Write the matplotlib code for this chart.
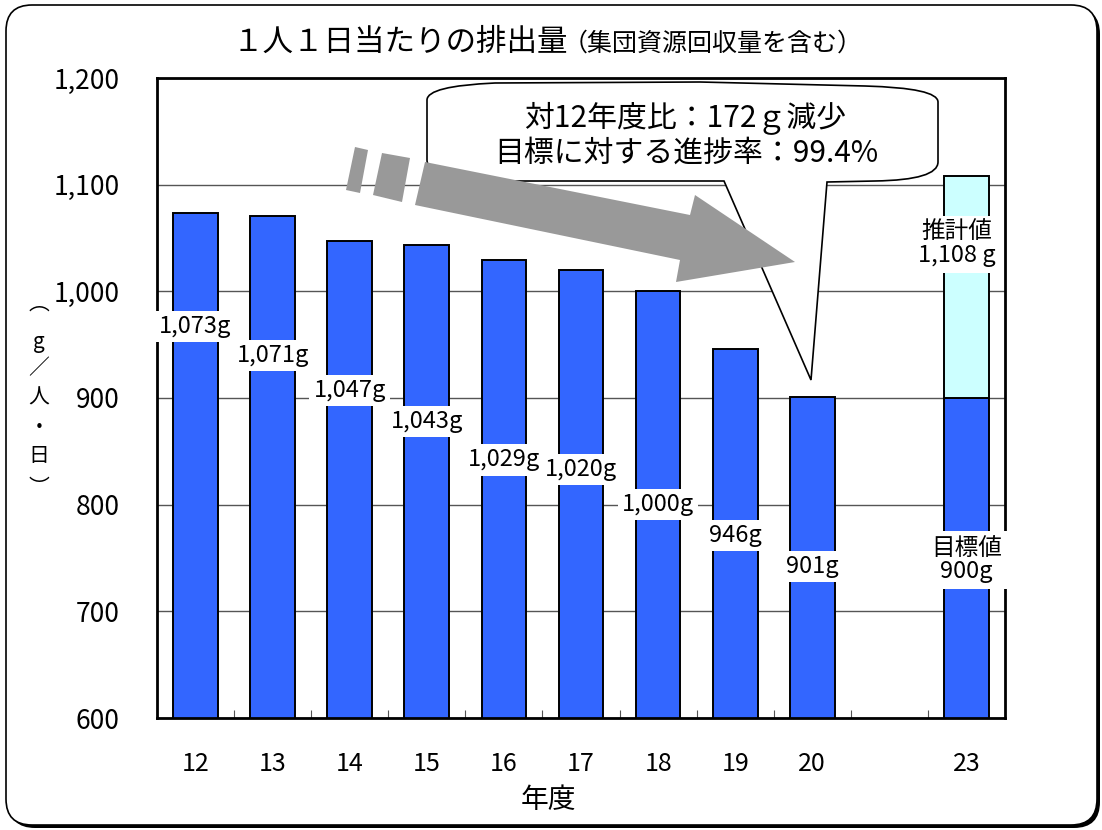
import matplotlib
matplotlib.use('Agg')
import matplotlib.pyplot as plt
from matplotlib.patches import FancyBboxPatch, Polygon, PathPatch
from matplotlib.path import Path
from matplotlib.transforms import IdentityTransform
from matplotlib.ticker import FixedLocator

plt.rcParams['font.family'] = ['Noto Sans CJK JP', 'DejaVu Sans']

# ---------------- data ----------------
years = ['12', '13', '14', '15', '16', '17', '18', '19', '20', '', '23']
actual = [1073, 1071, 1047, 1043, 1029, 1020, 1000, 946, 901]
actual_labels = ['1,073g', '1,071g', '1,047g', '1,043g', '1,029g',
                 '1,020g', '1,000g', '946g', '901g']
target_value = 900
estimate_value = 1108
target_label = '目標値\n900g'
estimate_label = '推計値\n1,108 g'
y_ticks = [600, 700, 800, 900, 1000, 1100, 1200]
y_tick_labels = ['600', '700', '800', '900', '1,000', '1,100', '1,200']
title_main = '１人１日当たりの排出量'
title_sub = '（集団資源回収量を含む）'
callout_lines = ['対12年度比：172ｇ減少', '目標に対する進捗率：99.4%']
ylabel_chars = ['︵', 'g', '／', '人', '・', '日', '︶']
xlabel = '年度'

# ---------------- layout ----------------
W, H = 1102, 830
label_y = [967, 940, 907, 878, 842, 833, 800, 771, 742]   # label centres (data units)
estimate_label_y = 1044
target_label_y = 748
ylabel_py = [304, 342, 368, 398, 428, 456, 488]

BLUE = '#3366FF'
CYAN = '#CCFFFF'
GREY = '#999999'

fig = plt.figure(figsize=(W / 100, H / 100), dpi=100)
fig.patch.set_facecolor('white')


def F(x, y):
    """reference pixel -> figure fraction"""
    return (x / W, 1 - y / H)


# outer rounded frame with shadow
shadow = FancyBboxPatch((9, H - 828), 1091, 820,
                        boxstyle='round,pad=0,rounding_size=26',
                        transform=IdentityTransform(), fc='black', ec='black',
                        lw=0, zorder=-2)
frame = FancyBboxPatch((6, H - 825), 1091, 820,
                       boxstyle='round,pad=0,rounding_size=26',
                       transform=IdentityTransform(), fc='white', ec='black',
                       lw=1.2, zorder=-1)
fig.patches.extend([shadow, frame])

ax = fig.add_axes([157 / W, 1 - 718 / H, 848 / W, 640 / H])
ax.set_zorder(1)
ax.set_facecolor('none')
ax.set_axisbelow(True)

x = list(range(len(years)))
bw = 0.58
ax.bar(x[:len(actual)], actual, width=bw, color=BLUE, edgecolor='black', lw=1.4, zorder=2)
ax.bar(x[-1], target_value, width=bw, color=BLUE, edgecolor='black', lw=1.4, zorder=2)
ax.bar(x[-1], estimate_value - target_value, bottom=target_value, width=bw,
       color=CYAN, edgecolor='black', lw=1.4, zorder=2)

ax.set_xlim(-0.5, len(years) - 0.5)
ax.set_ylim(600, 1200)
ax.yaxis.set_major_locator(FixedLocator(y_ticks))
ax.set_yticklabels(y_tick_labels, fontsize=19)
ax.yaxis.grid(True, color='#555555', lw=1.0, zorder=1)
ax.tick_params(axis='y', length=0, pad=27)

ax.set_xticks(x)
ax.set_xticklabels(years, fontsize=18)
ax.xaxis.set_minor_locator(FixedLocator([i + 0.5 for i in range(len(years) - 1)]))
ax.tick_params(axis='x', which='major', length=0, pad=24)
ax.tick_params(axis='x', which='minor', direction='in', length=6, width=0.8, color='#555555')

for s in ax.spines.values():
    s.set_linewidth(2.0)
    s.set_color('black')
    s.set_zorder(3)

# data labels
box = dict(fc='white', ec='none', pad=3)
for i, (lab, ly) in enumerate(zip(actual_labels, label_y)):
    ax.text(i, ly, lab, ha='center', va='center', fontsize=17, bbox=box, zorder=8)
ax.text(x[-1] - 0.12, estimate_label_y, estimate_label, ha='center', va='center',
        fontsize=17, linespacing=1.0, bbox=dict(fc='white', ec='none', pad=4), zorder=8)
ax.text(x[-1], target_label_y, target_label, ha='center', va='center',
        fontsize=17, linespacing=1.0, bbox=dict(fc='white', ec='none', pad=4), zorder=8)

# title
fig.text(*F(568, 42), title_main, ha='right', va='center', fontsize=22)
fig.text(*F(563, 44), title_sub, ha='left', va='center', fontsize=18)

# y label (stacked vertical)
for ch, py in zip(ylabel_chars, ylabel_py):
    fig.text(*F(39, py), ch, ha='center', va='center', fontsize=15)

# x label
fig.text(*F(548, 800), xlabel, ha='center', va='center', fontsize=20)

# callout
pts = [(427, 100), (427, 86), (495, 83),
       (700, 82),
       (865, 86), (938, 88), (938, 102),
       (938, 162),
       (938, 180), (875, 181),
       (827, 182),
       (811, 380),
       (724, 181),
       (495, 181),
       (427, 180), (427, 160),
       (427, 100)]
codes = [Path.MOVETO, Path.CURVE3, Path.CURVE3,
         Path.LINETO,
         Path.LINETO, Path.CURVE3, Path.CURVE3,
         Path.LINETO,
         Path.CURVE3, Path.CURVE3,
         Path.LINETO,
         Path.LINETO,
         Path.LINETO,
         Path.LINETO,
         Path.CURVE3, Path.CURVE3,
         Path.CLOSEPOLY]
callout = PathPatch(Path([F(*p) for p in pts], codes), transform=fig.transFigure,
                    fc='white', ec='black', lw=1.2, zorder=5, clip_on=False)
ax.add_patch(callout)
ax.text(*F(685, 118), callout_lines[0], transform=fig.transFigure,
        ha='center', va='center', fontsize=21.5, zorder=9)
ax.text(*F(686, 153), callout_lines[1], transform=fig.transFigure,
        ha='center', va='center', fontsize=21.5, zorder=9)

# big grey arrow with break dashes
arrow_pts = [(425, 162), (690, 215), (695, 195), (795, 262),
             (676, 282), (680, 260), (415, 205)]
dash1 = [(355, 147), (368, 150), (360, 193), (346, 190)]
dash2 = [(382, 153), (410, 158), (402, 202), (373, 195)]
for poly in (arrow_pts, dash1, dash2):
    ax.add_patch(Polygon([F(*p) for p in poly], closed=True, transform=fig.transFigure,
                         fc=GREY, ec='none', zorder=6, clip_on=False))

fig.savefig('out.png', dpi=100, facecolor='white')
